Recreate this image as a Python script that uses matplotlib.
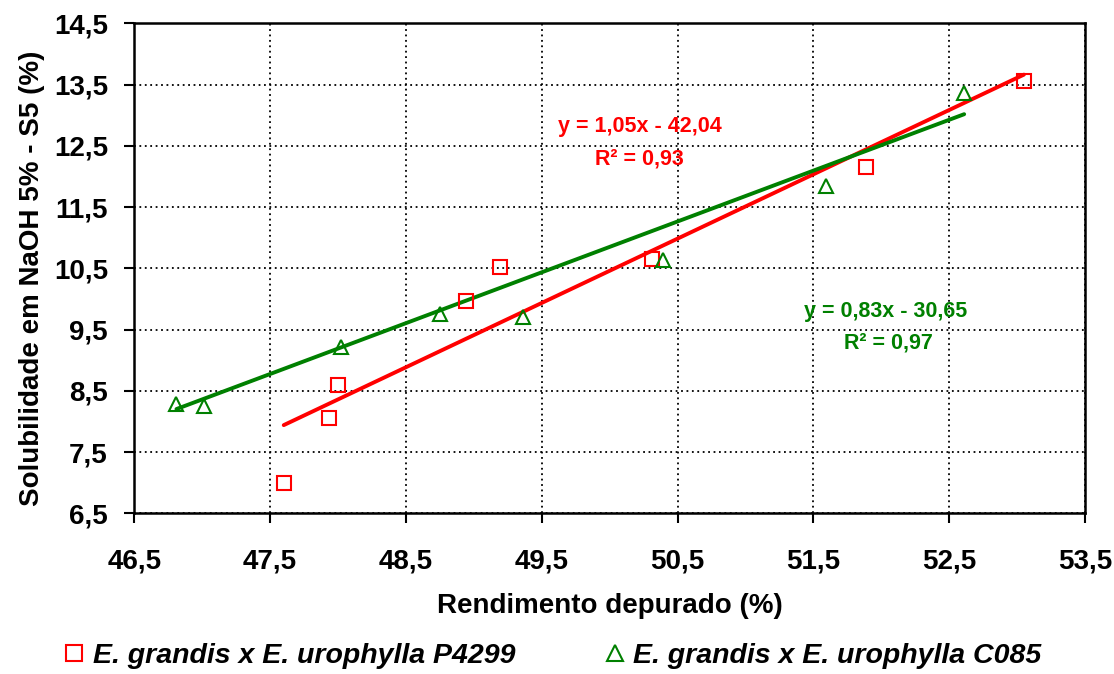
import matplotlib
matplotlib.use('Agg')
import matplotlib.pyplot as plt
import numpy as np
from matplotlib.ticker import FuncFormatter, FixedLocator

plt.rcParams['font.family'] = ['Liberation Sans', 'DejaVu Sans']
plt.rcParams['font.weight'] = 'bold'

# P4299 clone
p4299_yield = [47.60, 47.93, 48.00, 48.94, 49.19, 50.31, 51.89, 53.05]
p4299_s5 = [7.00, 8.06, 8.60, 9.97, 10.52, 10.65, 12.15, 13.56]
p4299_fit = (1.05, -42.04, 0.93)

# C085 clone
c085_yield = [46.81, 47.01, 48.02, 48.75, 49.36, 50.39, 51.59, 52.61]
c085_s5 = [8.29, 8.25, 9.22, 9.76, 9.71, 10.64, 11.84, 13.37]
c085_fit = (0.83, -30.65, 0.97)

x_ticks = [46.5, 47.5, 48.5, 49.5, 50.5, 51.5, 52.5, 53.5]
y_ticks = [6.5, 7.5, 8.5, 9.5, 10.5, 11.5, 12.5, 13.5, 14.5]

RED = '#ff0000'
GREEN = '#008000'


def comma(v, pos=None):
    return f'{v:.1f}'.replace('.', ',')


def comma2(v):
    return f'{v:.2f}'.replace('.', ',')


def eq_label(fit):
    a, b, r2 = fit
    sign = '-' if b < 0 else '+'
    return f'y = {comma2(a)}x {sign} {comma2(abs(b))}', f'R² = {comma2(r2)}'


def main():
    fig = plt.figure(figsize=(11.14, 6.74), dpi=100)
    ax = fig.add_axes([0.1206, 0.2384, 0.8534, 0.727])

    for xs, ys, fit, color, marker, label in (
        (p4299_yield, p4299_s5, p4299_fit, RED, 's',
         'E. grandis x E. urophylla P4299'),
        (c085_yield, c085_s5, c085_fit, GREEN, '^',
         'E. grandis x E. urophylla C085'),
    ):
        ax.plot(xs, ys, linestyle='none', marker=marker, markersize=10,
                markerfacecolor='none', markeredgecolor=color,
                markeredgewidth=1.5, label=label, zorder=3)
        x_line = np.array([min(xs), max(xs)])
        ax.plot(x_line, fit[0] * x_line + fit[1], color=color,
                linewidth=2.8, solid_capstyle='round', zorder=2)

    eq, r2 = eq_label(p4299_fit)
    ax.text(50.22, 12.81, eq, color=RED, fontsize=15.5, fontweight='bold',
            ha='center', va='center')
    ax.text(50.22, 12.29, r2, color=RED, fontsize=15.5, fontweight='bold',
            ha='center', va='center')
    eq, r2 = eq_label(c085_fit)
    ax.text(52.03, 9.80, eq, color=GREEN, fontsize=15.5, fontweight='bold',
            ha='center', va='center')
    ax.text(52.05, 9.28, r2, color=GREEN, fontsize=15.5, fontweight='bold',
            ha='center', va='center')

    ax.set_xlim(46.5, 53.5)
    ax.set_ylim(6.5, 14.5)
    ax.xaxis.set_major_locator(FixedLocator(x_ticks))
    ax.yaxis.set_major_locator(FixedLocator(y_ticks))
    ax.xaxis.set_major_formatter(FuncFormatter(comma))
    ax.yaxis.set_major_formatter(FuncFormatter(comma))
    ax.tick_params(direction='out', length=7, width=1.5, labelsize=20,
                   colors='black')
    ax.tick_params(axis='x', pad=18)
    ax.tick_params(axis='y', pad=12)
    for lbl in ax.get_xticklabels() + ax.get_yticklabels():
        lbl.set_fontweight('bold')
    ax.grid(True, color='black', linestyle=(0, (1, 2)), linewidth=1.3)
    for spine in ax.spines.values():
        spine.set_linewidth(1.8)
        spine.set_color('black')

    ax.set_xlabel('Rendimento depurado (%)', fontsize=20, fontweight='bold',
                  labelpad=14)
    ax.set_ylabel('Solubilidade em NaOH 5% - S5 (%)', fontsize=20,
                  fontweight='bold')
    ax.yaxis.set_label_coords(-0.094, 0.48)

    leg = fig.legend(loc='lower center', bbox_to_anchor=(0.497, -0.03),
                     ncol=2, frameon=False, handlelength=0.6,
                     handletextpad=0.35, columnspacing=3.2,
                     prop={'size': 20.5, 'weight': 'bold', 'style': 'italic'})
    for h in leg.legend_handles:
        h.set_markersize(11)

    fig.savefig('out.png', dpi=100)
    plt.close(fig)


if __name__ == '__main__':
    main()
